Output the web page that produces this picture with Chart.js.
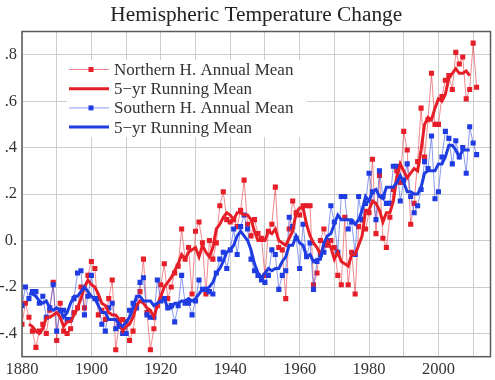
<!DOCTYPE html>
<html>
<head>
<meta charset="utf-8">
<title>Hemispheric Temperature Change</title>
<script src="https://cdn.jsdelivr.net/npm/chart.js@4.4.1/dist/chart.umd.min.js"></script>
<style>
  html, body { margin: 0; padding: 0; background: #fff; }
  #wrap { width: 495px; height: 380px; }
</style>
</head>
<body>
<div id="wrap"><canvas id="chart" width="495" height="380"></canvas></div>
<script>
  // ─── Data ─────────────────────────────────────────────────────────────────

  const years = [
    1880, 1881, 1882, 1883, 1884, 1885, 1886, 1887, 1888, 1889,
    1890, 1891, 1892, 1893, 1894, 1895, 1896, 1897, 1898, 1899,
    1900, 1901, 1902, 1903, 1904, 1905, 1906, 1907, 1908, 1909,
    1910, 1911, 1912, 1913, 1914, 1915, 1916, 1917, 1918, 1919,
    1920, 1921, 1922, 1923, 1924, 1925, 1926, 1927, 1928, 1929,
    1930, 1931, 1932, 1933, 1934, 1935, 1936, 1937, 1938, 1939,
    1940, 1941, 1942, 1943, 1944, 1945, 1946, 1947, 1948, 1949,
    1950, 1951, 1952, 1953, 1954, 1955, 1956, 1957, 1958, 1959,
    1960, 1961, 1962, 1963, 1964, 1965, 1966, 1967, 1968, 1969,
    1970, 1971, 1972, 1973, 1974, 1975, 1976, 1977, 1978, 1979,
    1980, 1981, 1982, 1983, 1984, 1985, 1986, 1987, 1988, 1989,
    1990, 1991, 1992, 1993, 1994, 1995, 1996, 1997, 1998, 1999,
    2000, 2001, 2002, 2003, 2004, 2005, 2006, 2007, 2008, 2009,
    2010, 2011
  ];

  // Northern Hemisphere annual mean (°C anomaly)
  const northAnnual = [
    -0.36, -0.27, -0.33, -0.39, -0.46, -0.39, -0.36, -0.40, -0.30, -0.18,
    -0.43, -0.27, -0.39, -0.40, -0.38, -0.31, -0.29, -0.20, -0.29, -0.15,
    -0.09, -0.12, -0.32, -0.30, -0.34, -0.25, -0.17, -0.47, -0.36, -0.34,
    -0.35, -0.43, -0.39, -0.28, -0.22, -0.08, -0.31, -0.47, -0.38, -0.28,
    -0.19, -0.10, -0.25, -0.20, -0.14, -0.11,  0.05, -0.08, -0.03, -0.23,
     0.04,  0.08, -0.01, -0.23,  0.00, -0.08, -0.01,  0.15,  0.21,  0.09,
     0.08,  0.09,  0.06,  0.13,  0.26,  0.07,  0.02,  0.09,  0.03,  0.01,
    -0.15,  0.04,  0.07,  0.23, -0.03, -0.04, -0.25,  0.05,  0.17,  0.12,
     0.11,  0.15,  0.15,  0.15, -0.19, -0.14,  0.00,  0.05, -0.02,  0.00,
    -0.03, -0.15, -0.19,  0.10, -0.19, -0.05, -0.23,  0.06,  0.09,  0.05,
     0.12,  0.35,  0.03,  0.28,  0.01, -0.03,  0.10,  0.22,  0.30,  0.25,
     0.47,  0.39,  0.07,  0.16,  0.34,  0.57,  0.36,  0.52,  0.72,  0.50,
     0.50,  0.62,  0.69,  0.71,  0.65,  0.81,  0.76,  0.79,  0.61,  0.65,
     0.85,  0.66
  ];

  // Northern Hemisphere 5-yr running mean (null where the window is incomplete)
  const northRunning = [
     null,  null, -0.36, -0.37, -0.39, -0.40, -0.38, -0.33, -0.33, -0.32,
    -0.31, -0.33, -0.37, -0.35, -0.35, -0.32, -0.29, -0.25, -0.20, -0.17,
    -0.19, -0.20, -0.23, -0.27, -0.28, -0.31, -0.32, -0.32, -0.34, -0.39,
    -0.37, -0.36, -0.33, -0.28, -0.26, -0.27, -0.29, -0.30, -0.33, -0.28,
    -0.24, -0.20, -0.18, -0.16, -0.13, -0.10, -0.06, -0.08, -0.05, -0.04,
    -0.03, -0.07, -0.02, -0.05, -0.07, -0.03,  0.05,  0.07,  0.10,  0.12,
     0.11,  0.09,  0.12,  0.12,  0.11,  0.11,  0.09,  0.04,  0.00,  0.00,
     0.00,  0.04,  0.03,  0.05,  0.00, -0.01, -0.02,  0.01,  0.04,  0.12,
     0.14,  0.14,  0.07,  0.02, -0.01, -0.03, -0.06, -0.02,  0.00, -0.03,
    -0.08, -0.05, -0.09, -0.10, -0.11, -0.06, -0.06, -0.02,  0.02,  0.13,
     0.13,  0.17,  0.16,  0.13,  0.08,  0.12,  0.12,  0.17,  0.27,  0.33,
     0.30,  0.27,  0.29,  0.31,  0.30,  0.39,  0.50,  0.53,  0.52,  0.57,
     0.61,  0.60,  0.63,  0.70,  0.72,  0.74,  0.72,  0.72,  0.73,  0.71,
     null,  null
  ];

  // Southern Hemisphere annual mean (°C anomaly)
  const southAnnual = [
    -0.28, -0.20, -0.25, -0.22, -0.22, -0.27, -0.24, -0.33, -0.29, -0.19,
    -0.39, -0.30, -0.30, -0.34, -0.34, -0.25, -0.14, -0.13, -0.32, -0.24,
    -0.15, -0.25, -0.25, -0.36, -0.39, -0.29, -0.27, -0.38, -0.37, -0.40,
    -0.40, -0.30, -0.27, -0.29, -0.18, -0.16, -0.32, -0.33, -0.33, -0.17,
    -0.26, -0.25, -0.29, -0.28, -0.35, -0.28, -0.15, -0.27, -0.27, -0.32,
    -0.26, -0.17, -0.21, -0.21, -0.22, -0.23, -0.14, -0.08, -0.05, -0.12,
    -0.04,  0.05, -0.06,  0.06,  0.11,  0.05, -0.08, -0.13, -0.15, -0.17,
    -0.18, -0.15, -0.04, -0.06, -0.21, -0.15, -0.13,  0.10,  0.06,  0.01,
    -0.12,  0.07, -0.07, -0.01, -0.21, -0.09, -0.06, -0.05,  0.00,  0.15,
     0.08, -0.05,  0.19,  0.19,  0.05,  0.08, -0.06,  0.19,  0.09,  0.16,
     0.29,  0.21,  0.09,  0.30,  0.19,  0.16,  0.16,  0.32,  0.32,  0.17,
     0.26,  0.33,  0.19,  0.12,  0.15,  0.22,  0.34,  0.31,  0.45,  0.18,
     0.21,  0.36,  0.47,  0.44,  0.33,  0.43,  0.36,  0.40,  0.29,  0.49,
     0.42,  0.37
  ];

  // Southern Hemisphere 5-yr running mean
  const southRunning = [
     null,  null, -0.23, -0.23, -0.24, -0.26, -0.27, -0.26, -0.29, -0.30,
    -0.29, -0.30, -0.33, -0.31, -0.27, -0.24, -0.24, -0.22, -0.20, -0.22,
    -0.24, -0.25, -0.28, -0.31, -0.31, -0.34, -0.34, -0.34, -0.36, -0.37,
    -0.35, -0.33, -0.29, -0.24, -0.24, -0.26, -0.26, -0.26, -0.28, -0.27,
    -0.26, -0.25, -0.29, -0.29, -0.27, -0.27, -0.26, -0.26, -0.25, -0.26,
    -0.25, -0.23, -0.21, -0.21, -0.20, -0.18, -0.14, -0.12, -0.09, -0.05,
    -0.04, -0.02,  0.02,  0.04,  0.02,  0.00, -0.04, -0.10, -0.14, -0.16,
    -0.14, -0.12, -0.13, -0.12, -0.12, -0.09, -0.07, -0.02, -0.02,  0.02,
    -0.01, -0.02, -0.07, -0.06, -0.09, -0.08, -0.08, -0.01,  0.02,  0.03,
     0.07,  0.11,  0.09,  0.09,  0.09,  0.09,  0.07,  0.09,  0.13,  0.19,
     0.17,  0.21,  0.22,  0.19,  0.18,  0.23,  0.23,  0.23,  0.25,  0.28,
     0.25,  0.21,  0.21,  0.20,  0.20,  0.23,  0.29,  0.30,  0.30,  0.30,
     0.33,  0.33,  0.36,  0.41,  0.41,  0.39,  0.36,  0.39,  0.39,  0.39,
     null,  null
  ];

  // Axis ticks
  const xGridYears = [1880, 1890, 1900, 1910, 1920, 1930, 1940, 1950, 1960, 1970, 1980, 1990, 2000, 2010];
  const xTickLabels = [1880, 1900, 1920, 1940, 1960, 1980, 2000];
  const yTickValues = [-0.4, -0.2, 0, 0.2, 0.4, 0.6, 0.8];
  const yTickText = ['-.4', '-.2', '0.', '.2', '.4', '.6', '.8'];

  const chartTitle = 'Hemispheric Temperature Change';
  const legendLabels = [
    'Northern H. Annual Mean',
    '5\u2212yr Running Mean',
    'Southern H. Annual Mean',
    '5\u2212yr Running Mean'
  ];

  // ─── Styles ───────────────────────────────────────────────────────────────

  const RED = 'rgb(230, 30, 40)';
  const RED_THIN = 'rgba(230, 40, 50, 0.55)';
  const BLUE = 'rgb(30, 60, 225)';
  const BLUE_THIN = 'rgba(40, 70, 230, 0.55)';
  const SERIF = '"Liberation Serif", "Times New Roman", serif';
  const TEXT = '#333';
  const GRID = '#cdcdcd';

  function toPoints(values) {
    return years.map(function (y, i) { return { x: y, y: values[i] }; });
  }

  // legend entry styles (mirrors the datasets)
  const legendStyles = [
    { color: RED, line: RED_THIN, width: 1, marker: true },
    { color: RED, line: RED, width: 3, marker: false },
    { color: BLUE, line: BLUE_THIN, width: 1, marker: true },
    { color: BLUE, line: BLUE, width: 3, marker: false }
  ];

  // ─── Plugins ──────────────────────────────────────────────────────────────

  // title centred over the plot area, frame, and in-plot legend
  const framePlugin = {
    id: 'frameAndLegend',
    afterDraw: function (chart) {
      const ctx = chart.ctx;
      const a = chart.chartArea;
      ctx.save();

      // title
      ctx.fillStyle = '#222';
      ctx.font = '21.3px ' + SERIF;
      ctx.textAlign = 'center';
      ctx.textBaseline = 'alphabetic';
      ctx.fillText(chartTitle, (a.left + a.right) / 2, 21);

      // legend box (white, hides gridlines behind it)
      ctx.fillStyle = '#fff';
      ctx.fillRect(67, 60, 240, 77);
      ctx.font = '17px ' + SERIF;
      ctx.textBaseline = 'middle';
      ctx.textAlign = 'left';
      legendLabels.forEach(function (label, i) {
        const st = legendStyles[i];
        const y = 69.5 + i * 19.2;
        ctx.strokeStyle = st.line;
        ctx.lineWidth = st.width;
        ctx.beginPath();
        ctx.moveTo(69, y);
        ctx.lineTo(109, y);
        ctx.stroke();
        if (st.marker) {
          ctx.fillStyle = st.color;
          ctx.fillRect(88.5, y - 2.5, 5, 5);
        }
        ctx.fillStyle = TEXT;
        ctx.fillText(label, 114, y + 1);
      });

      // frame
      ctx.strokeStyle = '#5a5a5a';
      ctx.lineWidth = 1.5;
      ctx.strokeRect(a.left, a.top, a.right - a.left, a.bottom - a.top);
      ctx.restore();
    }
  };

  // ─── Chart ────────────────────────────────────────────────────────────────

  new Chart(document.getElementById('chart'), {
    type: 'line',
    data: {
      datasets: [
        {
          label: legendLabels[0],
          data: toPoints(northAnnual),
          borderColor: RED_THIN,
          borderWidth: 1,
          pointStyle: 'rect',
          pointRadius: 3.6,
          pointBorderWidth: 0,
          pointBackgroundColor: RED,
          tension: 0,
          order: 4
        },
        {
          label: legendLabels[2],
          data: toPoints(southAnnual),
          borderColor: BLUE_THIN,
          borderWidth: 1,
          pointStyle: 'rect',
          pointRadius: 3.6,
          pointBorderWidth: 0,
          pointBackgroundColor: BLUE,
          tension: 0,
          order: 3
        },
        {
          label: legendLabels[1],
          data: toPoints(northRunning),
          borderColor: RED,
          borderWidth: 3,
          pointRadius: 0,
          tension: 0,
          spanGaps: false,
          order: 2
        },
        {
          label: legendLabels[3],
          data: toPoints(southRunning),
          borderColor: BLUE,
          borderWidth: 3,
          pointRadius: 0,
          tension: 0,
          spanGaps: false,
          order: 1
        }
      ]
    },
    options: {
      responsive: false,
      animation: false,
      devicePixelRatio: 1,
      layout: { padding: { left: 0, right: 4.5, top: 31.5, bottom: 0 } },
      plugins: {
        legend: { display: false },
        tooltip: { enabled: false },
        title: { display: false }
      },
      scales: {
        x: {
          type: 'linear',
          min: 1880,
          max: 2015,
          grid: { color: GRID, lineWidth: 1, drawTicks: false },
          border: { display: false },
          ticks: {
            color: TEXT,
            padding: 3,
            maxRotation: 0,
            autoSkip: false,
            font: { family: SERIF, size: 16.5 },
            callback: function (v) { return xTickLabels.indexOf(v) >= 0 ? String(v) : ''; }
          },
          afterBuildTicks: function (s) {
            s.ticks = xGridYears.map(function (v) { return { value: v }; });
          },
          afterFit: function (s) { s.height = 23.3; }
        },
        y: {
          type: 'linear',
          min: -0.5,
          max: 0.9,
          grid: { color: GRID, lineWidth: 1, drawTicks: false },
          border: { display: false },
          ticks: {
            color: TEXT,
            padding: 5,
            font: { family: SERIF, size: 16.5 },
            callback: function (v) {
              for (let i = 0; i < yTickValues.length; i++) {
                if (Math.abs(yTickValues[i] - v) < 1e-6) return yTickText[i];
              }
              return '';
            }
          },
          afterBuildTicks: function (s) {
            s.ticks = yTickValues.map(function (v) { return { value: v }; });
          },
          afterFit: function (s) { s.width = 22; }
        }
      }
    },
    plugins: [framePlugin]
  });
</script>
</body>
</html>
